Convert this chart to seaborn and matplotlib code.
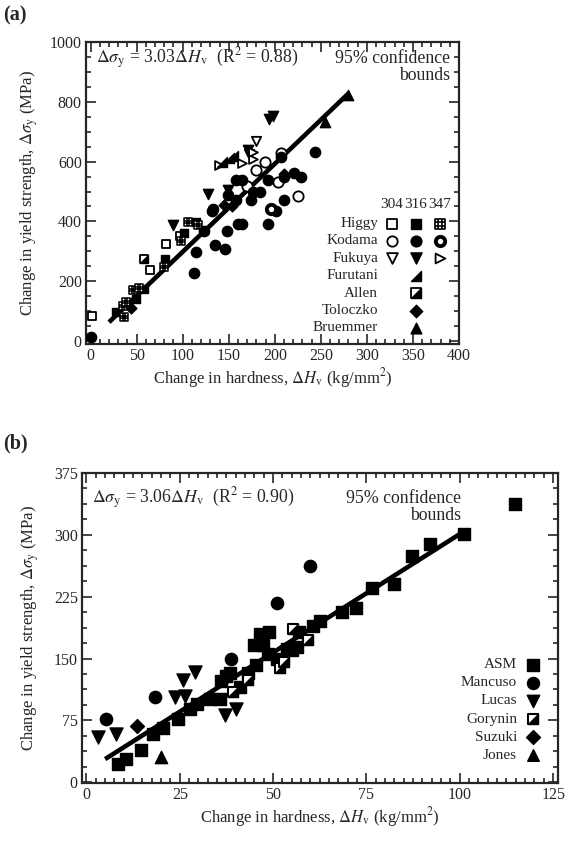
import numpy as np
import pandas as pd
import matplotlib
matplotlib.use("Agg")
import matplotlib.pyplot as plt
import seaborn as sns
from matplotlib.path import Path
from matplotlib.ticker import MultipleLocator

# ---------------- data: panel (a) ----------------
higgy304_x = [1, 65, 82, 97]
higgy304_y = [83, 236, 326, 352]
higgy316_x = [28, 49, 58, 81, 101, 114]
higgy316_y = [96, 140, 173, 274, 361, 399]
higgy347_x = [35, 36.5, 38, 45.5, 52.7, 80, 98.6, 105.7, 117]
higgy347_y = [118, 80, 129, 170, 176, 249, 333, 399, 387]
kodama304_x = [180, 189, 207, 203, 225, 196, 170]
kodama304_y = [571, 599, 628, 533, 484, 440, 520]
kodama316_x = [0, 112, 114, 122.6, 131.5, 135, 146, 147.6, 149.5, 158, 160, 164, 158, 174,
               176, 183.5, 192.5, 192.5, 201, 210, 207, 210, 221, 228, 244, 133, 164]
kodama316_y = [14, 227, 298, 369, 435, 320, 307, 369, 489, 539, 391, 539, 473, 473,
               500, 500, 539, 391, 435, 473, 615, 550, 561, 550, 632, 440, 391]
kodama347_x = [196]
kodama347_y = [440]
fukuya304_x = [180, 172]
fukuya304_y = [668, 625]
fukuya316_x = [90, 128, 149, 194, 198, 171]
fukuya316_y = [388, 492, 506, 741, 752, 640]
fukuya347_x = [139, 164, 176, 176]
fukuya347_y = [588, 596, 610, 632]
furutani_x = [143, 150, 155]
furutani_y = [598, 612, 618]
allen_x = [58]
allen_y = [274]
toloczko_x = [44, 153, 210, 145]
toloczko_y = [112, 451, 560, 455]
bruemmer_x = [280, 255]
bruemmer_y = [823, 733]
fit_a_x = [20, 280]
fit_a_y = [63, 828]

legend_a_names = ["Higgy", "Kodama", "Fukuya", "Furutani", "Allen", "Toloczko", "Bruemmer"]
legend_a_cols = ["304", "316", "347"]

# ---------------- data: panel (b) ----------------
asm_x = [8.5, 10.7, 14.5, 17.8, 20.5, 24.5, 27.7, 29.5, 33, 35.7, 36, 38.4, 37.5, 43.3, 45.5,
         45, 46.4, 49, 47.3, 48.6, 53.6, 56.5, 57, 60.7, 62.5, 68.5, 72.3, 76.5, 82.3, 87.2,
         92, 101, 114.7, 41, 51, 55]
asm_y = [22, 28, 39, 58, 66, 77, 89, 95, 101, 101, 123, 132, 129, 132, 142,
         166, 180, 182, 166, 156, 162, 164, 182, 190, 196, 206, 211, 235, 240, 274,
         289, 301, 338, 115, 150, 160]
mancuso_x = [5.3, 18.3, 38.8, 50.9, 59.8]
mancuso_y = [77, 103, 150, 217, 262]
lucas_x = [3.1, 7.9, 23.7, 26.4, 25.9, 29, 37, 40]
lucas_y = [55, 59, 103, 105, 124, 134, 81, 89]
gorynin_x = [39.3, 43.3, 51.8, 53, 55.2, 59.4]
gorynin_y = [109, 124, 138, 146, 186, 172]
suzuki_x = [13.4]
suzuki_y = [68]
jones_x = [20]
jones_y = [30]
fit_b_x = [5, 100]
fit_b_y = [28, 301]

legend_b_names = ["ASM", "Mancuso", "Lucas", "Gorynin", "Suzuki", "Jones"]

# ---------------- style ----------------
sns.set_style("ticks")
plt.rcParams["font.family"] = ["Liberation Serif", "DejaVu Serif"]
plt.rcParams["mathtext.fontset"] = "stix"

M, L, C = Path.MOVETO, Path.LINETO, Path.CLOSEPOLY
grid_sq = Path([(-1, -1), (1, -1), (1, 1), (-1, 1), (-1, -1),
                (-0.33, -1), (-0.33, 1), (0.33, -1), (0.33, 1),
                (-1, -0.33), (1, -0.33), (-1, 0.33), (1, 0.33)],
               [M, L, L, L, C, M, L, M, L, M, L, M, L])
tri_br = Path([(-1, -1), (1, -1), (1, 1), (-1, -1)], [M, L, L, C])
open_right = Path([(-1, -1), (1, 0), (-1, 1), (-1, -1)], [M, L, L, C])


def pts(ax, x, y, marker, fc, s, lw=1.0):
    df = pd.DataFrame({"x": x, "y": y})
    sns.scatterplot(data=df, x="x", y="y", ax=ax, marker=marker, s=s, color=fc,
                    edgecolor="black", linewidth=lw, zorder=3, legend=False)


def lg(ax, x, y, marker, fc, s, lw=1.0):
    ax.scatter([x], [y], marker=marker, s=s, facecolor=fc, edgecolor="black",
               linewidth=lw, transform=ax.transAxes, clip_on=False, zorder=5)


def style_axes(ax):
    for sp in ax.spines.values():
        sp.set_linewidth(1.6)
        sp.set_visible(True)
    ax.tick_params(which="both", direction="in", top=True, right=True, width=1.2,
                   labelsize=11.5, pad=3)
    ax.tick_params(which="major", length=7)
    ax.tick_params(which="minor", length=3.5)


fig = plt.figure(figsize=(5.73, 8.43), dpi=100)

# ---------------- panel (a) ----------------
axa = fig.add_axes([86 / 573, 1 - 344 / 843, 373 / 573, 302 / 843])
axa.plot(fit_a_x, fit_a_y, color="black", lw=3.3, solid_capstyle="butt", zorder=2)
SA = 40
pts(axa, higgy304_x, higgy304_y, "s", "white", SA, 1.3)
pts(axa, higgy316_x, higgy316_y, "s", "black", SA, 1.0)
pts(axa, higgy347_x, higgy347_y, grid_sq, "white", SA, 1.1)
pts(axa, kodama304_x, kodama304_y, "o", "white", 55, 1.3)
pts(axa, kodama316_x, kodama316_y, "o", "black", 55, 1.0)
pts(axa, kodama347_x, kodama347_y, "o", "white", 45, 2.8)
pts(axa, fukuya304_x, fukuya304_y, "v", "white", 45, 1.3)
pts(axa, fukuya316_x, fukuya316_y, "v", "black", 55, 1.0)
pts(axa, fukuya347_x, fukuya347_y, open_right, "white", 40, 1.3)
pts(axa, furutani_x, furutani_y, tri_br, "black", 45, 1.0)
pts(axa, allen_x, allen_y, "s", "white", SA, 1.3)
pts(axa, allen_x, allen_y, tri_br, "black", SA, 1.0)
pts(axa, toloczko_x, toloczko_y, "D", "black", 30, 1.0)
pts(axa, bruemmer_x, bruemmer_y, "^", "black", 55, 1.0)

axa.set_xlim(-5, 400)
axa.set_ylim(-10, 1000)
axa.xaxis.set_major_locator(MultipleLocator(50))
axa.xaxis.set_minor_locator(MultipleLocator(10))
axa.yaxis.set_major_locator(MultipleLocator(200))
axa.yaxis.set_minor_locator(MultipleLocator(50))
style_axes(axa)
axa.set_xlabel("Change in hardness, $\\Delta H_\\mathrm{v}$ (kg/mm$^2$)", fontsize=12, labelpad=1)
axa.set_ylabel("Change in yield strength, $\\Delta\\sigma_\\mathrm{y}$ (MPa)", fontsize=12, labelpad=7)

axa.text(0.027, 0.945, "$\\Delta\\sigma_\\mathrm{y}$ = 3.03$\\Delta H_\\mathrm{v}$  (R$^2$ = 0.88)",
         transform=axa.transAxes, ha="left", va="center", fontsize=12.8)
axa.text(0.976, 0.975, "95% confidence\nbounds", transform=axa.transAxes, ha="right",
         va="top", fontsize=12.8, multialignment="right", linespacing=1.0)

# legend (a)
colx = [0.820, 0.885, 0.949]
for cx, lab in zip(colx, legend_a_cols):
    axa.text(cx, 0.462, lab, transform=axa.transAxes, ha="center", va="center", fontsize=11)
rows = np.linspace(0.399, 0.053, 7)
for ry, name in zip(rows, legend_a_names):
    axa.text(0.783, ry, name, transform=axa.transAxes, ha="right", va="center", fontsize=11)
lg(axa, colx[0], rows[0], "s", "white", 60, 1.3)
lg(axa, colx[1], rows[0], "s", "black", 60, 1.0)
lg(axa, colx[2], rows[0], grid_sq, "white", 60, 1.2)
lg(axa, colx[0], rows[1], "o", "white", 55, 1.3)
lg(axa, colx[1], rows[1], "o", "black", 60, 1.0)
lg(axa, colx[2], rows[1], "o", "white", 45, 2.8)
lg(axa, colx[0], rows[2], "v", "white", 60, 1.3)
lg(axa, colx[1], rows[2], "v", "black", 65, 1.0)
lg(axa, colx[2], rows[2], open_right, "white", 50, 1.3)
lg(axa, colx[1], rows[3], tri_br, "black", 55, 1.0)
lg(axa, colx[1], rows[4], "s", "white", 55, 1.3)
lg(axa, colx[1], rows[4], tri_br, "black", 55, 1.0)
lg(axa, colx[1], rows[5], "D", "black", 40, 1.0)
lg(axa, colx[1], rows[6], "^", "black", 60, 1.0)

fig.text(3 / 573, 1 - 15 / 843, "(a)", fontsize=14.5, fontweight="bold", ha="left", va="center")

# ---------------- panel (b) ----------------
axb = fig.add_axes([82 / 573, 1 - 783 / 843, 476 / 573, 310 / 843])
axb.plot(fit_b_x, fit_b_y, color="black", lw=3.3, solid_capstyle="butt", zorder=2)
SB = 78
pts(axb, asm_x, asm_y, "s", "black", SB, 1.0)
pts(axb, mancuso_x, mancuso_y, "o", "black", SB, 1.0)
pts(axb, lucas_x, lucas_y, "v", "black", SB + 10, 1.0)
pts(axb, gorynin_x, gorynin_y, "s", "white", 55, 1.5)
pts(axb, gorynin_x, gorynin_y, tri_br, "black", 55, 1.0)
pts(axb, suzuki_x, suzuki_y, "D", "black", 50, 1.0)
pts(axb, jones_x, jones_y, "^", "black", SB, 1.0)

axb.set_xlim(-1.2, 126.3)
axb.set_ylim(-1, 375)
axb.xaxis.set_major_locator(MultipleLocator(25))
axb.xaxis.set_minor_locator(MultipleLocator(2.5))
axb.yaxis.set_major_locator(MultipleLocator(75))
axb.yaxis.set_minor_locator(MultipleLocator(18.75))
style_axes(axb)
axb.set_xlabel("Change in hardness, $\\Delta H_\\mathrm{v}$ (kg/mm$^2$)", fontsize=12, labelpad=1)
axb.set_ylabel("Change in yield strength, $\\Delta\\sigma_\\mathrm{y}$ (MPa)", fontsize=12, labelpad=9)

axb.text(0.021, 0.918, "$\\Delta\\sigma_\\mathrm{y}$ = 3.06$\\Delta H_\\mathrm{v}$  (R$^2$ = 0.90)",
         transform=axb.transAxes, ha="left", va="center", fontsize=12.8)
axb.text(0.796, 0.945, "95% confidence\nbounds", transform=axb.transAxes, ha="right",
         va="top", fontsize=12.8, multialignment="right", linespacing=1.0)

rows_b = np.linspace(0.381, 0.090, 6)
for ry, name in zip(rows_b, legend_b_names):
    axb.text(0.914, ry, name, transform=axb.transAxes, ha="right", va="center", fontsize=11)
mx = 0.947
lg(axb, mx, rows_b[0], "s", "black", 75, 1.0)
lg(axb, mx, rows_b[1], "o", "black", 75, 1.0)
lg(axb, mx, rows_b[2], "v", "black", 80, 1.0)
lg(axb, mx, rows_b[3], "s", "white", 55, 1.5)
lg(axb, mx, rows_b[3], tri_br, "black", 55, 1.0)
lg(axb, mx, rows_b[4], "D", "black", 50, 1.0)
lg(axb, mx, rows_b[5], "^", "black", 70, 1.0)

fig.text(3 / 573, 1 - 443 / 843, "(b)", fontsize=14.5, fontweight="bold", ha="left", va="center")

fig.savefig("out.png", dpi=100)
